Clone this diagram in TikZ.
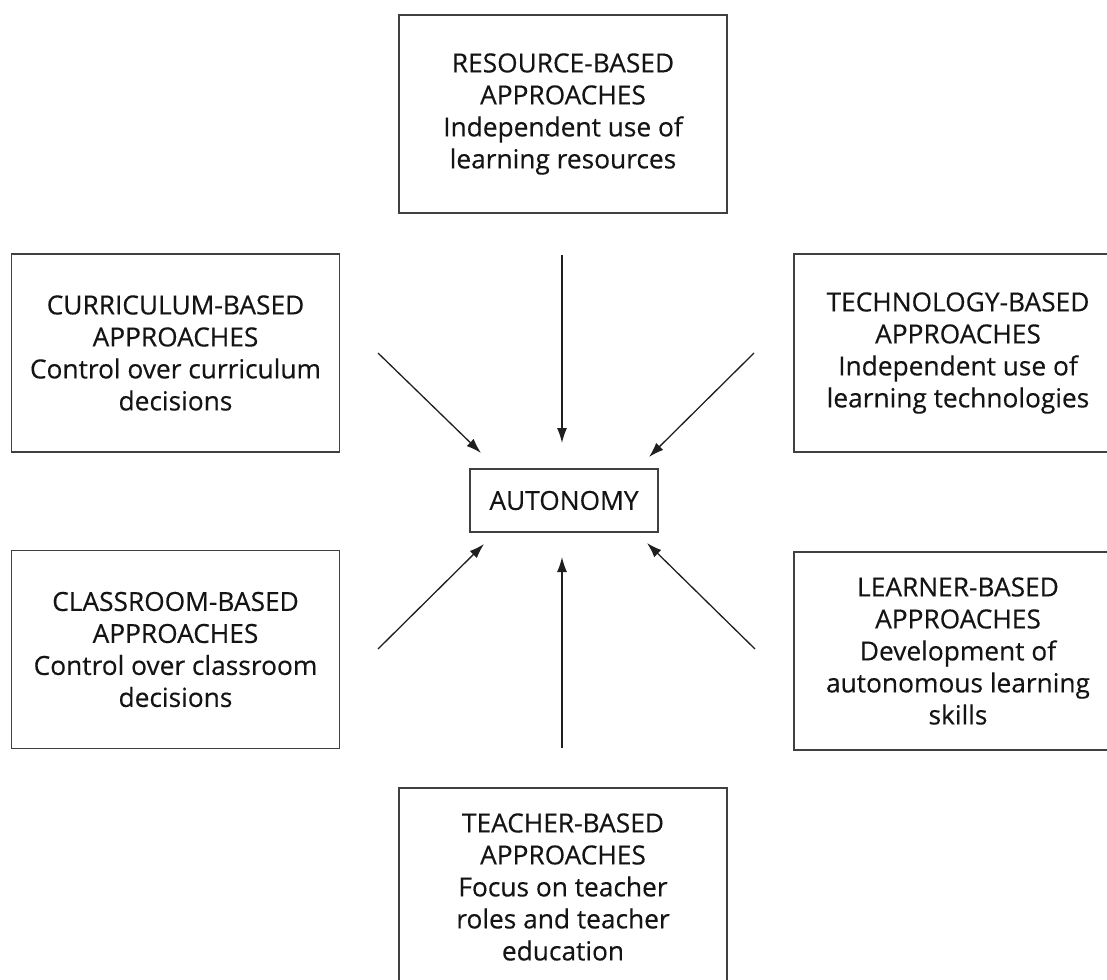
\documentclass[tikz,border=0pt]{standalone}
\usepackage{fontspec}
\setmainfont{Open Sans}
\newfontfamily\boxfont{Open Sans}[FakeBold=0.35]
\usetikzlibrary{arrows.meta}
\begin{document}
\begin{tikzpicture}[x=1pt,y=-1pt,
  approachbox/.style={draw=black!75, line width=1.6pt, rectangle,
    minimum width=328pt, minimum height=198pt, inner sep=0pt,
    align=center, font=\boxfont\fontsize{26.3}{32}\selectfont, text=black!92},
  centrebox/.style={draw=black!75, line width=1.6pt, rectangle,
    minimum width=188pt, minimum height=63pt, inner sep=0pt,
    font=\boxfont\fontsize{26.3}{32}\selectfont, text=black!92},
  towards/.style={draw=black!88, line width=1.3pt,
    -{Latex[length=15pt,width=10pt]}}]
\useasboundingbox (0,0) rectangle (1107,979);

% central concept
\node[centrebox] (auto) at (564,500.5) {AUTONOMY};

% the six approaches
\node[approachbox] (res) at (563,114)
  {RESOURCE-BASED\\APPROACHES\\Independent use of\\learning resources};
\node[approachbox] (cur) at (175.5,353)
  {CURRICULUM-BASED\\APPROACHES\\Control over curriculum\\decisions};
\node[approachbox] (tech) at (958,353)
  {TECHNOLOGY-BASED\\APPROACHES\\Independent use of\\learning technologies};
\node[approachbox] (cls) at (175.5,649.5)
  {CLASSROOM-BASED\\APPROACHES\\Control over classroom\\decisions};
\node[approachbox] (lrn) at (958,651)
  {LEARNER-BASED\\APPROACHES\\Development of\\autonomous learning\\skills};
\node[approachbox] (tch) at (563,887)
  {TEACHER-BASED\\APPROACHES\\Focus on teacher\\roles and teacher\\education};

% arrow end points around the centre
\coordinate (resA) at (562,255);  \coordinate (resB) at (562,443);
\coordinate (curA) at (378,353);  \coordinate (curB) at (481,453);
\coordinate (techA) at (754,353); \coordinate (techB) at (649,457);
\coordinate (clsA) at (378,649);  \coordinate (clsB) at (484,544);
\coordinate (lrnA) at (755,649);  \coordinate (lrnB) at (647,543);
\coordinate (tchA) at (562,748);  \coordinate (tchB) at (562,557);

\draw[towards] (resA) -- (resB);
\draw[towards] (curA) -- (curB);
\draw[towards] (techA) -- (techB);
\draw[towards] (clsA) -- (clsB);
\draw[towards] (lrnA) -- (lrnB);
\draw[towards] (tchA) -- (tchB);
\end{tikzpicture}
\end{document}
